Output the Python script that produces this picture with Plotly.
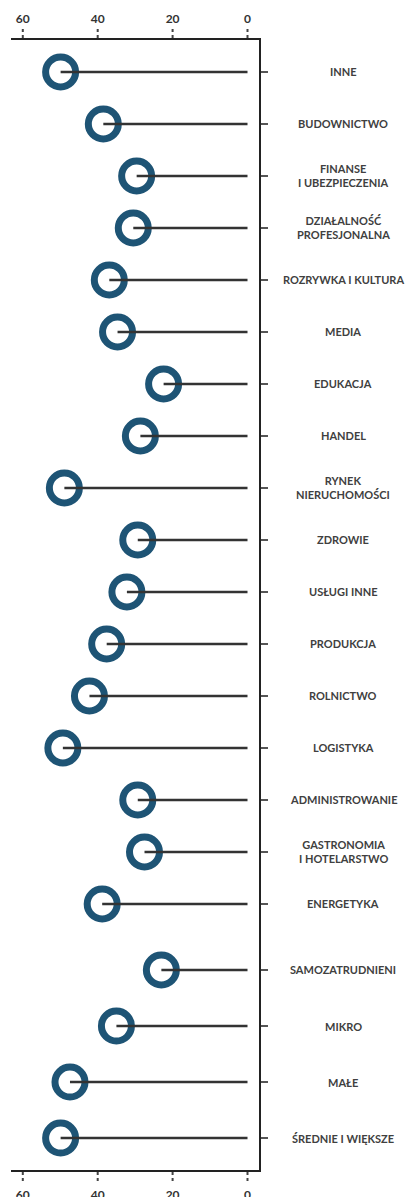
import plotly.graph_objects as go

# ---------------- data ----------------
sectors = ["INNE", "BUDOWNICTWO", "FINANSE\nI UBEZPIECZENIA", "DZIAŁALNOŚĆ\nPROFESJONALNA",
           "ROZRYWKA I KULTURA", "MEDIA", "EDUKACJA", "HANDEL", "RYNEK\nNIERUCHOMOŚCI",
           "ZDROWIE", "USŁUGI INNE", "PRODUKCJA", "ROLNICTWO", "LOGISTYKA",
           "ADMINISTROWANIE", "GASTRONOMIA\nI HOTELARSTWO", "ENERGETYKA"]
sector_values = [49.9, 38.5, 29.6, 30.5, 36.9, 34.7, 22.4, 28.6, 48.9, 29.3,
                 32.2, 37.6, 42.2, 49.3, 29.3, 27.5, 38.8]

sizes = ["SAMOZATRUDNIENI", "MIKRO", "MAŁE", "ŚREDNIE I WIĘKSZE"]
size_values = [23.0, 35.0, 47.4, 49.9]

x_tick_vals = [60, 40, 20, 0]
x_tick_text = ["60", "40", "20", "0"]

# ---------------- style ----------------
BLUE = "#1e5475"
STEM = "#333333"
AXIS = "#222222"
TEXT = "#404040"
FONT = "Lato, 'Open Sans', sans-serif"

W, H = 411, 1197
ML, MR, MT, MB = 11, 152, 40, 27
plot_h = H - MT - MB
split = 1 - (937 - MT) / plot_h  # boundary between the two groups
x_range = [63.15, -3.07]

fig = go.Figure()


def add_group(cats, vals, xa, ya):
    fig.add_trace(go.Scatter(
        x=vals, y=cats, mode="markers", xaxis=xa, yaxis=ya,
        marker=dict(symbol="circle-open", size=30, color=BLUE,
                    line=dict(width=7, color=BLUE)),
        hoverinfo="skip", showlegend=False))
    lx, ly = [], []
    for c, v in zip(cats, vals):
        lx += [v, 0, None]
        ly += [c, c, None]
    fig.add_trace(go.Scatter(
        x=lx, y=ly, mode="lines", xaxis=xa, yaxis=ya,
        line=dict(color=STEM, width=2.6),
        hoverinfo="skip", showlegend=False))
    for c in cats:
        fig.add_annotation(
            x=(343 - ML) / (W - ML - MR), xref="paper", y=c, yref=ya,
            text=c.replace("\n", "<br>"), showarrow=False,
            xanchor="center", yanchor="middle", align="center",
            font=dict(family=FONT, size=11, color=TEXT, weight="bold"))


add_group(sectors, sector_values, "x", "y")
add_group(sizes, size_values, "x2", "y2")

common_x = dict(range=x_range, tickmode="array", tickvals=x_tick_vals,
                ticktext=x_tick_text, ticks="outside", ticklen=10,
                tickcolor="rgba(0,0,0,0)", showgrid=False, zeroline=False,
                showline=True, linecolor=AXIS, linewidth=2, automargin=False,
                tickfont=dict(family=FONT, size=12, color="#333333", weight="bold"))

common_y = dict(side="right", type="category", categoryorder="array",
                showticklabels=False, ticks="outside", ticklen=7, tickwidth=2,
                tickcolor="#555555", showline=True, linecolor=AXIS, linewidth=2,
                showgrid=False, zeroline=False, automargin=False)

fig.update_layout(
    width=W, height=H,
    margin=dict(l=ML, r=MR, t=MT, b=MB, autoexpand=False),
    paper_bgcolor="white", plot_bgcolor="white",
    xaxis=dict(**common_x, side="top", anchor="y", domain=[0, 1],
               ticklabelstandoff=0),
    xaxis2=dict(**common_x, side="bottom", anchor="y2", domain=[0, 1],
                matches="x", ticklabelstandoff=3),
    yaxis=dict(**common_y, domain=[split, 1], range=[16.635, -0.615],
               anchor="x", categoryarray=sectors),
    yaxis2=dict(**common_y, domain=[0, split], range=[3.571, -0.589],
                anchor="x2", categoryarray=sizes),
)

# dotted tick marks on the top and bottom x axes
for v in x_tick_vals:
    fig.add_shape(type="line", xref="x", yref="paper", x0=v, x1=v,
                  y0=1 + 2 / plot_h, y1=1 + 11 / plot_h,
                  line=dict(color="#444444", width=2, dash="dot"))
    fig.add_shape(type="line", xref="x", yref="paper", x0=v, x1=v,
                  y0=-2 / plot_h, y1=-11 / plot_h,
                  line=dict(color="#444444", width=2, dash="dot"))

fig.write_html(
    "out.html",
    config={"displayModeBar": False},
    post_script="document.body.style.margin='0px';document.body.style.padding='0px';",
)
